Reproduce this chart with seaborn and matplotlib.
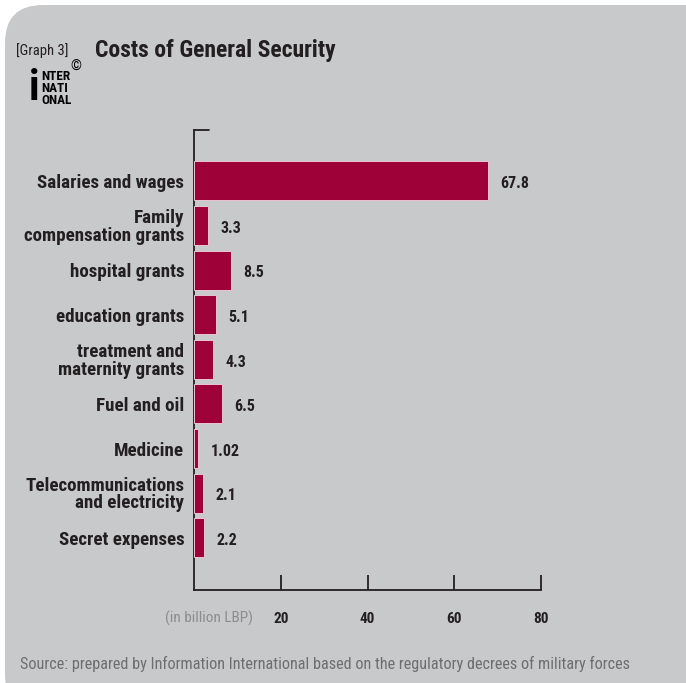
import matplotlib
matplotlib.use("Agg")
import matplotlib.pyplot as plt
from matplotlib import font_manager
from matplotlib.patches import FancyBboxPatch
import seaborn as sns
import pandas as pd

categories = [
    "Salaries and wages",
    "Family\ncompensation grants",
    "hospital grants",
    "education grants",
    "treatment and\nmaternity grants",
    "Fuel and oil",
    "Medicine",
    "Telecommunications\nand electricity",
    "Secret expenses",
]
values = [67.8, 3.3, 8.5, 5.1, 4.3, 6.5, 1.02, 2.1, 2.2]
value_labels = ["67.8", "3.3", "8.5", "5.1", "4.3", "6.5", "1.02", "2.1", "2.2"]
x_ticks = [20, 40, 60, 80]

df = pd.DataFrame({"item": categories, "cost": values})

sns.set_theme(style="white")
names = {f.name for f in font_manager.fontManager.ttflist}
narrow = "Liberation Sans Narrow" if "Liberation Sans Narrow" in names else "Roboto Condensed"
plt.rcParams["font.family"] = [narrow, "DejaVu Sans"]

BG = "#c8c9cb"
BAR = "#9e0038"
INK = "#231f20"

fig = plt.figure(figsize=(6.86, 6.83), dpi=100)
fig.patch.set_facecolor("white")

# rounded grey panel behind everything (inch coordinates)
panel = FancyBboxPatch((0.05, -0.3), 7.2, 7.08,
                       boxstyle="round,pad=0,rounding_size=0.38",
                       transform=fig.dpi_scale_trans, facecolor=BG,
                       edgecolor="none", zorder=-5)
fig.patches.append(panel)

W, H = 686, 683
ax = fig.add_axes([194 / W, (H - 590) / H, (541 - 194) / W, 460 / H])
ax.set_facecolor("none")
ax.set_zorder(2)

sns.barplot(data=df, x="cost", y="item", orient="h", color=BAR,
            width=0.875, saturation=1, edgecolor="#e9c6d0", linewidth=0.7,
            ax=ax, zorder=3)

ax.set_xlim(0, 80)
ax.set_ylim(9.17, -1.14)
ax.set_xlabel("")
ax.set_ylabel("")

for s in ["top", "right"]:
    ax.spines[s].set_visible(False)
for s in ["left", "bottom"]:
    ax.spines[s].set_color(INK)
    ax.spines[s].set_linewidth(1.3)
    ax.spines[s].set_zorder(1)

ax.set_xticks(x_ticks)
ax.set_xticklabels([str(t) for t in x_ticks], fontsize=11, fontweight="bold",
                   color=INK)
ax.tick_params(axis="x", direction="in", length=10.5, width=1.3, color=INK,
               pad=16, bottom=True)
ax.tick_params(axis="y", length=0, pad=7)
for lab in ax.get_yticklabels():
    lab.set_fontsize(13.7)
    lab.set_fontweight("bold")
    lab.set_color(INK)
    lab.set_linespacing(0.95)
    lab.set_ha("right")

# short cap at the top of the value axis
ax.plot([0, 0.043], [1, 1], transform=ax.transAxes, color=INK, lw=1.3,
        clip_on=False, zorder=2)

for i, (v, t) in enumerate(zip(values, value_labels)):
    ax.annotate(t, xy=(v, i), xytext=(9, -2), textcoords="offset points",
                ha="left", va="center", fontsize=11.5, fontweight="bold",
                color=INK)

fig.text(253 / W, 1 - 618 / H, "(in billion LBP)", ha="right", va="center",
         fontsize=11, color="#8c8c8e")

fig.text(16 / W, 1 - 51 / H, "[Graph 3]", ha="left", va="center",
         fontsize=10.5, color=INK)
fig.text(95 / W, 1 - 50 / H, "Costs of General Security", ha="left",
         va="center", fontsize=17, fontweight="bold", color=INK)

# publisher mark
fig.text(29 / W, 1 - 89 / H, "i", ha="left", va="center", fontsize=30,
         fontweight="heavy", color="black")
for k, word in enumerate(["NTER", "NATI", "ONAL"]):
    fig.text(41 / W, 1 - (76 + k * 12) / H, word, ha="left", va="center",
             fontsize=9.5, fontweight="heavy", color="black")
fig.text(76 / W, 1 - 67 / H, "\u00a9", ha="center", va="center", fontsize=10,
         color="black")

fig.text(20 / W, 1 - 664 / H,
         "Source: prepared by Information International based on the "
         "regulatory decrees of military forces",
         ha="left", va="center", fontsize=11.7, color="#6d6e70")

fig.savefig("out.png", dpi=100, facecolor=fig.get_facecolor())
